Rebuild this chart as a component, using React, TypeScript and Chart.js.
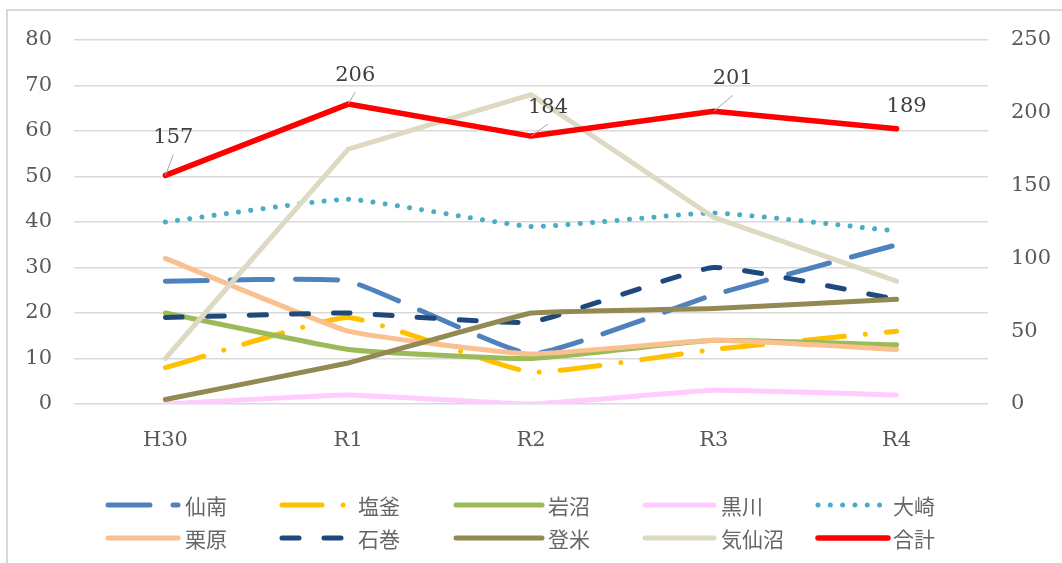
import { useEffect, useRef } from 'react';
import { Chart, registerables } from 'chart.js';

Chart.register(...registerables);

const categories = ['H30', 'R1', 'R2', 'R3', 'R4'];
const seriesNames = ['仙南', '塩釜', '岩沼', '黒川', '大崎', '栗原', '石巻', '登米', '気仙沼', '合計'];
const senan = [27, 27, 11, 24, 35];
const shiogama = [8, 19, 7, 12, 16];
const iwanuma = [20, 12, 10, 14, 13];
const kurokawa = [0, 2, 0, 3, 2];
const osaki = [40, 45, 39, 42, 38];
const kurihara = [32, 16, 11, 14, 12];
const ishinomaki = [19, 20, 18, 30, 23];
const tome = [1, 9, 20, 21, 23];
const kesennuma = [10, 56, 68, 41, 27];
const total = [157, 206, 184, 201, 189];
const leftAxisMax = 80;
const leftAxisStep = 10;
const rightAxisMax = 250;
const rightAxisStep = 50;

const SERIF = '"DejaVu Serif", "Liberation Serif", serif';
const CJK = '"Noto Sans CJK JP", "Noto Sans", sans-serif';

const seriesValues = [senan, shiogama, iwanuma, kurokawa, osaki, kurihara, ishinomaki, tome, kesennuma, total];
const seriesStyles = [
  { color: '#4F81BD', dash: [42, 23], width: 5, tension: 0.12 },
  { color: '#FFC000', dash: [40, 21, 0.01, 21], width: 5, tension: 0.12 },
  { color: '#9BBB59', dash: [], width: 5, tension: 0.12 },
  { color: '#FFCCFF', dash: [], width: 5, tension: 0.12 },
  { color: '#4BACC6', dash: [0.01, 12.3], width: 5, tension: 0.12 },
  { color: '#FAC090', dash: [], width: 5, tension: 0.12 },
  { color: '#1F497D', dash: [17, 25], width: 5, tension: 0.12 },
  { color: '#938953', dash: [], width: 5, tension: 0.05 },
  { color: '#DDD9C3', dash: [], width: 5, tension: 0 },
  { color: '#FF0000', dash: [], width: 5.5, tension: 0 },
];

const legendColX = [108, 282, 456, 645, 818];
const legendLineLen = [70, 70, 86, 69, 70];
const legendTextX = [185, 358, 548, 721, 893];
const legendRowY = [505, 538];

const labelOffsets = [
  { dx: 8, dy: -38, leader: true },
  { dx: 7, dy: -29, leader: true },
  { dx: 17, dy: -29, leader: true },
  { dx: 19, dy: -33, leader: true },
  { dx: 10, dy: -22, leader: false },
];

const framePlugin = {
  id: 'frame',
  beforeDraw(chart: any) {
    const ctx = chart.ctx;
    ctx.save();
    ctx.fillStyle = '#FFFFFF';
    ctx.fillRect(0, 0, chart.width, chart.height);
    ctx.strokeStyle = '#D9D9D9';
    ctx.lineWidth = 2;
    ctx.beginPath();
    ctx.moveTo(7, chart.height + 5);
    ctx.lineTo(7, 10);
    ctx.lineTo(chart.width + 5, 10);
    ctx.stroke();
    ctx.restore();
  },
};

const labelPlugin = {
  id: 'totalLabels',
  afterDatasetsDraw(chart: any) {
    const ctx = chart.ctx;
    const idx = seriesNames.length - 1;
    const meta = chart.getDatasetMeta(idx);
    ctx.save();
    ctx.font = `21px ${SERIF}`;
    ctx.fillStyle = '#404040';
    ctx.textAlign = 'center';
    ctx.textBaseline = 'middle';
    meta.data.forEach((pt: any, i: number) => {
      const o = labelOffsets[i];
      const lx = pt.x + o.dx;
      const ly = pt.y + o.dy;
      if (o.leader) {
        ctx.strokeStyle = '#A6A6A6';
        ctx.lineWidth = 1;
        ctx.beginPath();
        ctx.moveTo(pt.x, pt.y);
        ctx.lineTo(lx, ly + 17);
        ctx.stroke();
      }
      ctx.fillText(String(total[i]), lx, ly);
    });
    ctx.restore();
  },
};

const legendPlugin = {
  id: 'gridLegend',
  afterDraw(chart: any) {
    const ctx = chart.ctx;
    ctx.save();
    chart.data.datasets.forEach((ds: any, i: number) => {
      const row = Math.floor(i / 5);
      const col = i % 5;
      const y = legendRowY[row];
      const x0 = legendColX[col];
      ctx.strokeStyle = ds.borderColor;
      ctx.lineWidth = ds.borderWidth;
      ctx.lineCap = 'round';
      ctx.setLineDash(ds.borderDash || []);
      ctx.beginPath();
      ctx.moveTo(x0, y);
      ctx.lineTo(x0 + legendLineLen[col], y);
      ctx.stroke();
      ctx.setLineDash([]);
      ctx.fillStyle = '#666666';
      ctx.font = `21px ${CJK}`;
      ctx.textAlign = 'left';
      ctx.textBaseline = 'middle';
      ctx.fillText(ds.label, legendTextX[col], y + 1);
    });
    ctx.restore();
  },
};

export default function App() {
  const ref = useRef<HTMLCanvasElement | null>(null);
  useEffect(() => {
    if (!ref.current) return;
    const n = seriesNames.length;
    const datasets = seriesNames.map((name, i) => ({
      label: name,
      data: seriesValues[i],
      yAxisID: i === n - 1 ? 'y1' : 'y',
      borderColor: seriesStyles[i].color,
      backgroundColor: seriesStyles[i].color,
      borderWidth: seriesStyles[i].width,
      borderDash: seriesStyles[i].dash,
      borderCapStyle: 'round',
      borderJoinStyle: 'round',
      tension: seriesStyles[i].tension,
      pointRadius: 0,
      pointHoverRadius: 0,
      fill: false,
      order: n - i,
    }));
    const chart = new Chart(ref.current, {
      type: 'line',
      data: { labels: categories, datasets: datasets as any },
      options: {
        responsive: false,
        animation: false,
        layout: { padding: { top: 40, bottom: 109, left: 0, right: 0 } },
        plugins: {
          legend: { display: false },
          tooltip: { enabled: false },
        },
        scales: {
          x: {
            offset: true,
            grid: { display: false },
            border: { display: false },
            ticks: { color: '#595959', font: { family: SERIF, size: 21 }, padding: 16 },
            afterFit: (s: any) => { s.height = 50; },
          },
          y: {
            position: 'left',
            min: 0,
            max: leftAxisMax,
            ticks: { stepSize: leftAxisStep, color: '#595959', font: { family: SERIF, size: 21 }, padding: 22 },
            grid: { color: '#D9D9D9', lineWidth: 1.5, drawTicks: false },
            border: { display: false },
            afterFit: (s: any) => { s.width = 74; },
          },
          y1: {
            position: 'right',
            min: 0,
            max: rightAxisMax,
            ticks: { stepSize: rightAxisStep, color: '#595959', font: { family: SERIF, size: 21 }, padding: 23 },
            grid: { display: false, drawTicks: false },
            border: { display: false },
            afterFit: (s: any) => { s.width = 74; },
          },
        },
      },
      plugins: [framePlugin, labelPlugin, legendPlugin],
    });
    return () => chart.destroy();
  }, []);
  return (
    <div style={{ position: 'absolute', left: 0, top: 0, width: 1062, height: 563 }}>
      <canvas ref={ref} width={1062} height={563} />
    </div>
  );
}
